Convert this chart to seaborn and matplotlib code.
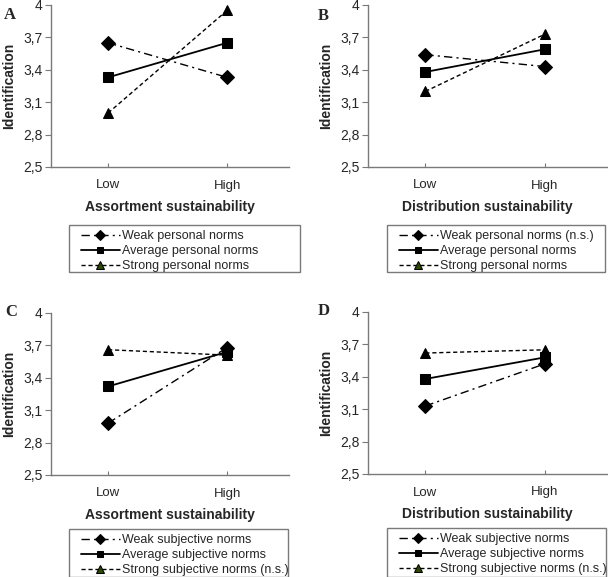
import matplotlib
matplotlib.use("Agg")
import matplotlib.pyplot as plt
from matplotlib.patches import Rectangle
import pandas as pd
import seaborn as sns

# category levels on the x axis
levels = ["Low", "High"]

# panel A: assortment x personal norms
a_weak = [3.65, 3.33]
a_avg = [3.33, 3.65]
a_strong = [3.00, 3.95]

# panel B: distribution x personal norms
b_weak = [3.54, 3.43]
b_avg = [3.38, 3.59]
b_strong = [3.20, 3.73]

# panel C: assortment x subjective norms
c_weak = [2.98, 3.68]
c_avg = [3.32, 3.64]
c_strong = [3.66, 3.61]

# panel D: distribution x subjective norms
d_weak = [3.13, 3.52]
d_avg = [3.38, 3.58]
d_strong = [3.62, 3.65]

yticks = [2.5, 2.8, 3.1, 3.4, 3.7, 4.0]
ytick_labels = ["2,5", "2,8", "3,1", "3,4", "3,7", "4"]

personal_labels = ["Weak personal norms", "Average personal norms", "Strong personal norms"]
personal_labels_b = ["Weak personal norms (n.s.)", "Average personal norms", "Strong personal norms"]
subjective_labels = ["Weak subjective norms", "Average subjective norms", "Strong subjective norms (n.s.)"]

W, H = 608, 577
GREY = "#7a7a7a"

sns.set_style("ticks")
plt.rcParams["font.family"] = ["Liberation Sans", "DejaVu Sans"]

# line style per series: weak, average, strong
STYLES = [
    dict(marker="D", markersize=7, linestyle=(0, (6, 3, 1.5, 3)), linewidth=1.0),
    dict(marker="s", markersize=6.5, linestyle="-", linewidth=1.3),
    dict(marker="^", markersize=7.5, linestyle=(0, (3, 2)), linewidth=1.0),
]


def fx(px):
    return px / W


def fy(py):
    return 1 - py / H


def draw_panel(fig, rect, letter, letter_pos, series, labels, xlabel, legend_rect):
    left, top, right, bottom = rect
    ax = fig.add_axes([fx(left), fy(bottom), fx(right - left), (bottom - top) / H])
    for vals, lab, st in zip(series, labels, STYLES):
        df = pd.DataFrame({"level": levels, "value": vals})
        sns.lineplot(data=df, x="level", y="value", ax=ax, color="black",
                     markeredgecolor="black", label=lab, **st)
    ax.set_xlim(-0.48, 1.52)
    ax.set_ylim(2.5, 4.0)
    ax.set_yticks(yticks)
    ax.set_yticklabels(ytick_labels)
    ax.tick_params(axis="y", direction="out", length=4, width=0.8, color=GREY,
                   labelsize=10, pad=2)
    ax.tick_params(axis="x", direction="in", length=3, width=0.8, color=GREY,
                   labelsize=9.5, pad=9)
    for s in ("top", "right"):
        ax.spines[s].set_visible(False)
    for s in ("left", "bottom"):
        ax.spines[s].set_color(GREY)
        ax.spines[s].set_linewidth(1.0)
    ax.set_ylabel("Identification", fontsize=10, fontweight="bold", labelpad=5)
    ax.set_xlabel(xlabel, fontsize=10, fontweight="bold", labelpad=6)
    fig.text(fx(letter_pos[0]), fy(letter_pos[1]), letter,
             fontsize=12, fontweight="bold", family=["Liberation Serif", "DejaVu Serif"],
             va="top", ha="left")

    # legend frame drawn separately so the inner padding matches the reference
    lx0, ly0, lx1, ly1 = legend_rect
    fig.add_artist(Rectangle((fx(lx0), fy(ly1)), fx(lx1 - lx0), (ly1 - ly0) / H,
                             transform=fig.transFigure, facecolor="none",
                             edgecolor=GREY, linewidth=1.0, zorder=-1))
    handles, labs = ax.get_legend_handles_labels()
    leg = ax.legend(handles, labs, loc="upper left",
                    bbox_to_anchor=(fx(lx0 + 12), fy(ly0 + 5)),
                    bbox_transform=fig.transFigure, borderaxespad=0, borderpad=0,
                    fontsize=9, handlelength=3.1, handletextpad=0.2,
                    labelspacing=0.25, markerscale=0.75, frameon=False)
    leg.legend_handles[2].set_markerfacecolor("#2f4a00")
    return ax


fig = plt.figure(figsize=(W / 100, H / 100), dpi=100)

draw_panel(fig, (51, 5, 289, 167), "A", (4, 7), [a_weak, a_avg, a_strong], personal_labels,
           "Assortment sustainability", (69, 225, 300, 272))
draw_panel(fig, (368, 5, 607, 167), "B", (318, 8), [b_weak, b_avg, b_strong], personal_labels_b,
           "Distribution sustainability", (387, 225, 605, 272))
draw_panel(fig, (51, 313, 289, 475), "C", (5, 304), [c_weak, c_avg, c_strong], subjective_labels,
           "Assortment sustainability", (69, 529, 288, 577))
draw_panel(fig, (368, 312, 607, 474), "D", (318, 303), [d_weak, d_avg, d_strong], subjective_labels,
           "Distribution sustainability", (387, 528, 606, 577))

fig.savefig("out.png", dpi=100)
